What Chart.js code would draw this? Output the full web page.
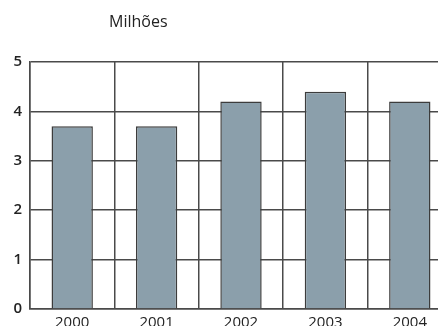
<!DOCTYPE html>
<html>
<head>
<meta charset="utf-8">
<script src="https://cdn.jsdelivr.net/npm/chart.js@4/dist/chart.umd.min.js"></script>
<style>
  html, body { margin: 0; padding: 0; background: #fff; overflow: hidden; }
  #wrap { width: 456px; height: 326px; }
</style>
</head>
<body>
<div id="wrap"><canvas id="grafico"></canvas></div>
<script>
const anos = ['2000', '2001', '2002', '2003', '2004'];
const valores = [3.7, 3.7, 4.2, 4.4, 4.2];
const ticksY = [0, 1, 2, 3, 4, 5];

const corLinha = '#4a4a4a';
const fonte = "'Open Sans', 'DejaVu Sans', sans-serif";

// legenda "Milhões" acima do gráfico
const tituloUnidade = {
    id: 'tituloUnidade',
    afterDraw(chart) {
        const ctx = chart.ctx;
        ctx.save();
        ctx.font = '16px ' + fonte;
        ctx.fillStyle = '#222';
        ctx.textBaseline = 'middle';
        ctx.fillText('Milhões', chart.chartArea.left + 79, 22);
        ctx.restore();
    }
};

const config = {
    type: 'bar',
    data: {
        labels: anos,
        datasets: [{
                label: 'Milhões',
                data: valores,
                backgroundColor: '#8b9fab',
                borderColor: '#3c3c3c',
                borderWidth: 1.5,
                categoryPercentage: 0.49,
                barPercentage: 1
            }]
    },
    options: {
        responsive: true,
        maintainAspectRatio: false,
        animation: false,
        layout: {
            padding: { top: 62, right: 4, left: 0, bottom: 0 }
        },
        plugins: {
            legend: { display: false },
            tooltip: { enabled: false }
        },
        scales: {
            x: {
                offset: true,
                grid: { offset: true, color: corLinha, lineWidth: 1.5, drawTicks: false },
                border: { color: corLinha, width: 1.5 },
                ticks: { color: '#222', font: { family: fonte, size: 15 }, padding: 5 },
                afterFit(scale) { scale.height = 17; }
            },
            y: {
                min: 0,
                max: 5,
                afterBuildTicks(scale) { scale.ticks = ticksY.map(v => ({ value: v })); },
                grid: { color: corLinha, lineWidth: 1.5, drawTicks: false },
                border: { color: corLinha, width: 1.5 },
                ticks: { color: '#222', font: { family: fonte, size: 15, weight: '600' }, padding: 8 },
                afterFit(scale) { scale.width = 30; }
            }
        }
    },
    plugins: [tituloUnidade]
};

var grafico = new Chart(document.getElementById('grafico'), config);
</script>
</body>
</html>
